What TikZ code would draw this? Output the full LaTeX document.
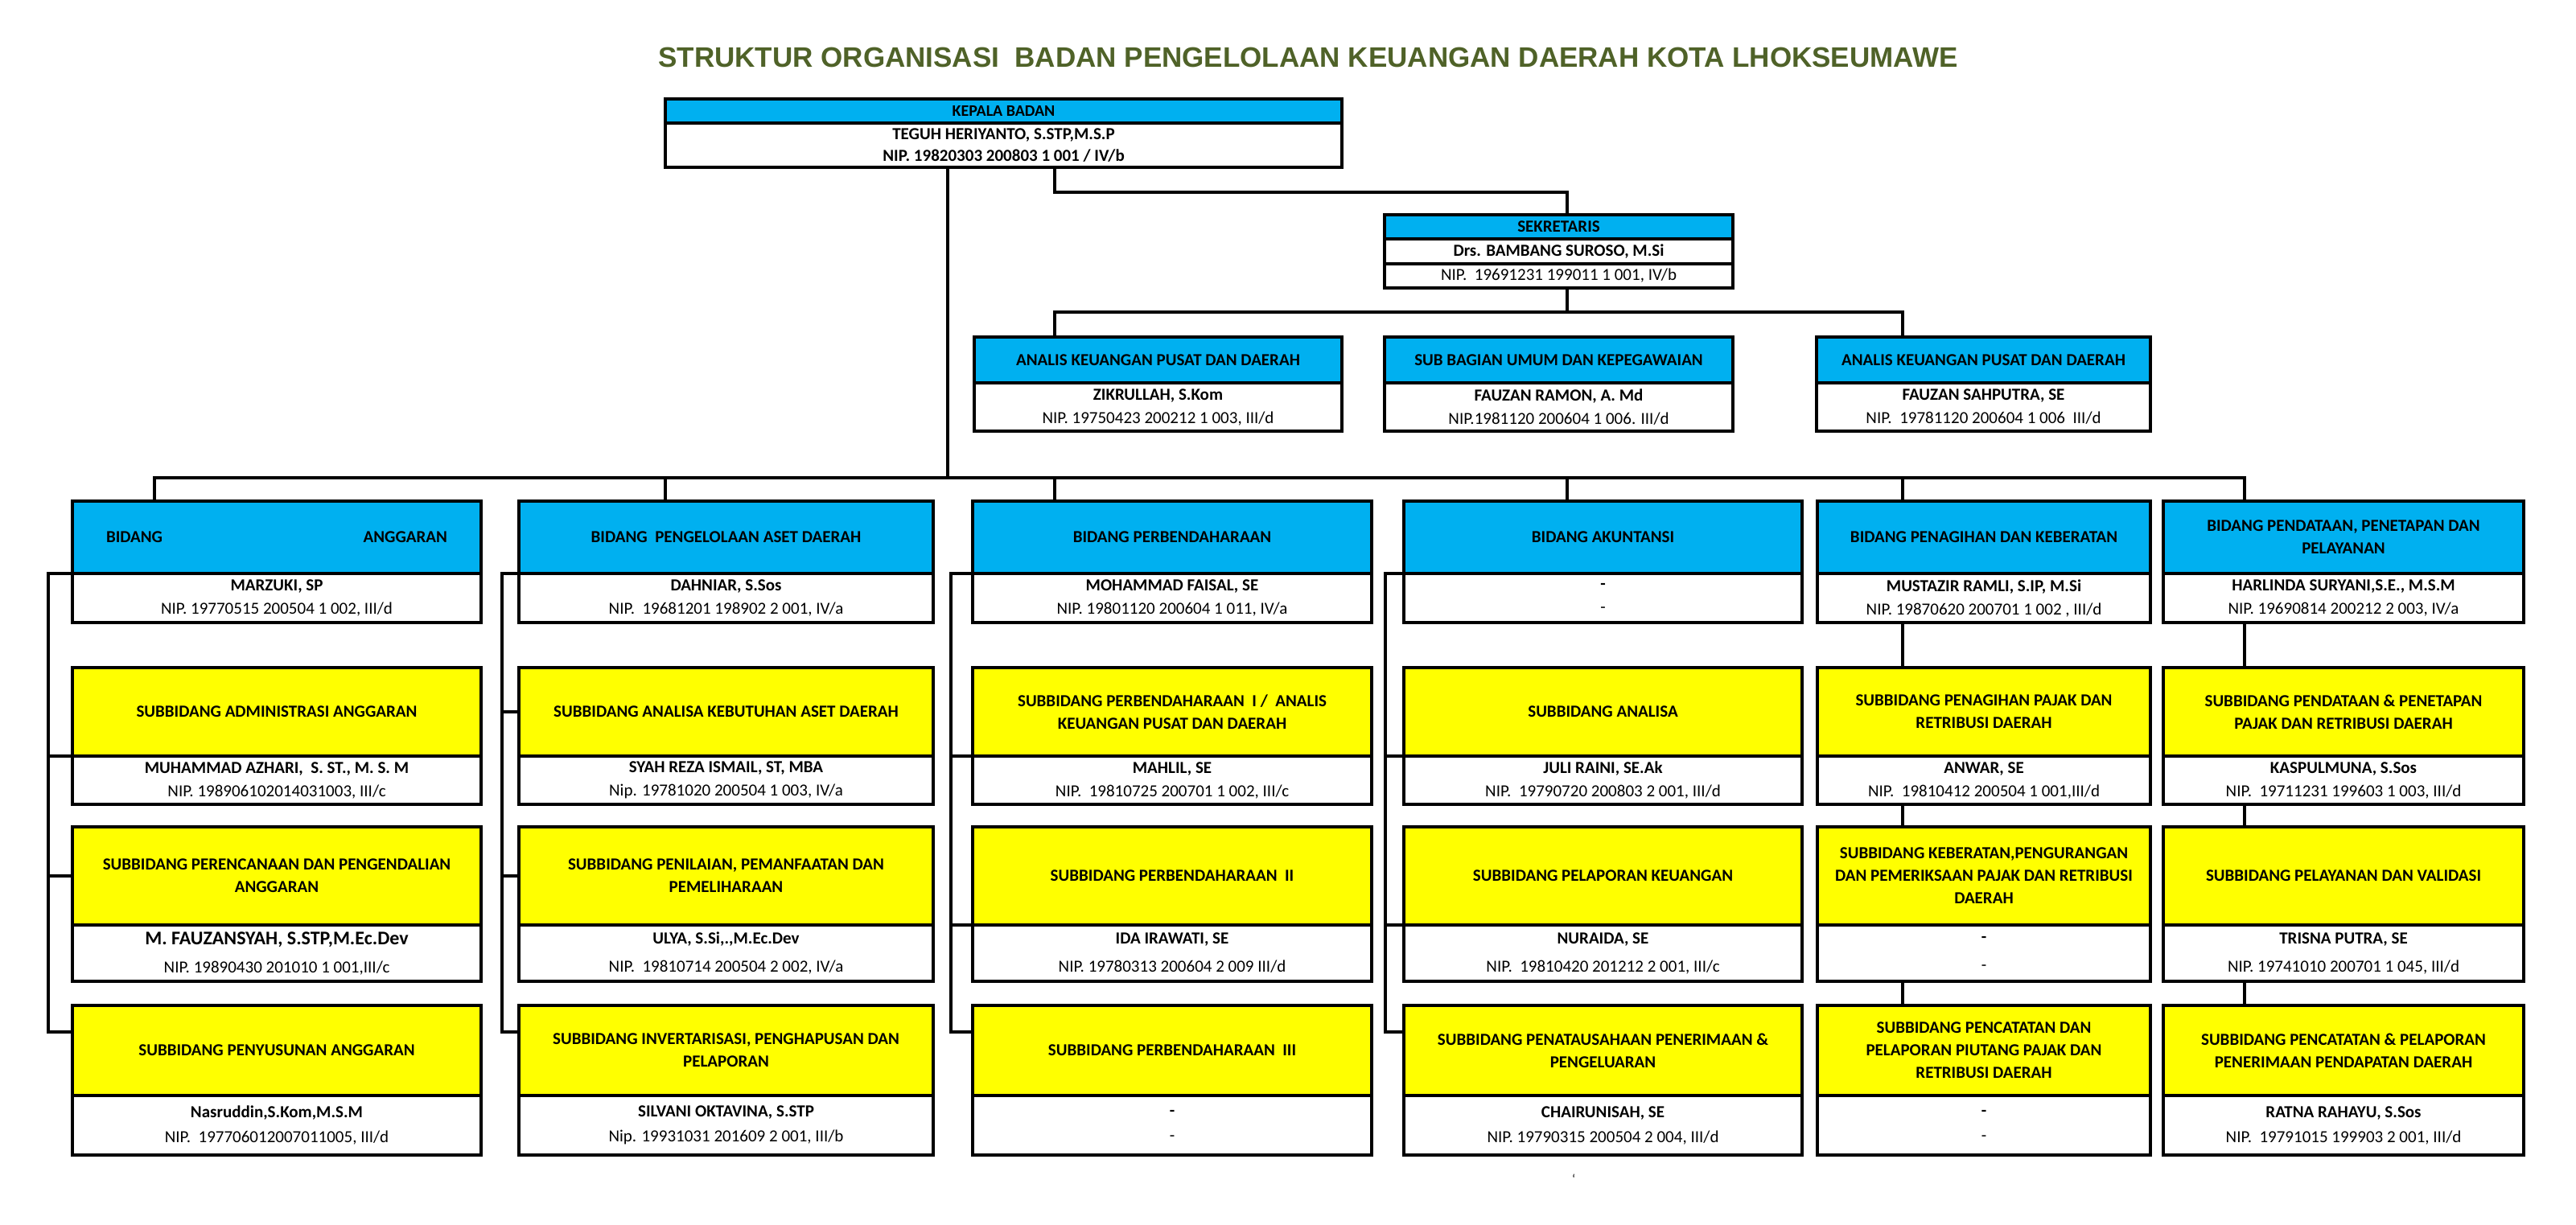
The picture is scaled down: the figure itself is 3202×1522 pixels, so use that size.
\documentclass[tikz,border=0pt]{standalone}
\usepackage{fontspec}
\setmainfont{Carlito}
\newfontfamily\titlefont{Liberation Sans}
\usetikzlibrary{calc}
\definecolor{hdrblue}{RGB}{0,176,240}
\definecolor{subyel}{RGB}{255,255,0}
\definecolor{titlegreen}{RGB}{79,98,40}
\newcommand\obox[9]{%
  \pgfmathsetlengthmacro\obw{(#3-#2)*0.5}%
  \pgfmathsetlengthmacro\obh{(#5-#4)*0.5}%
  \pgfmathsetlengthmacro\obb{(#6-#5)*0.5}%
  \node[hdr,fill=#7,minimum width=\obw,minimum height=\obh] (#1h) at (#2,#4) {#8};
  \node[bdy,minimum width=\obw,minimum height=\obb] (#1b) at (#2,#5) {#9};}
\begin{document}
\begin{tikzpicture}[x=0.5pt,y=-0.5pt,
  boxbase/.style={draw=black,line width=2.4pt,rectangle,inner sep=0pt,outer sep=0pt,anchor=north west,align=center},
  hdr/.style={boxbase,font=\bfseries\fontsize{10.5}{14}\selectfont},
  bdy/.style={boxbase,fill=white,font=\fontsize{10.5}{14.5}\selectfont},
  conn/.style={line width=1.8pt,line cap=rect}]
\useasboundingbox[fill=white] (0,0) rectangle (3202,1522);

\node[font=\titlefont\bfseries\fontsize{17.5}{20}\selectfont,text=titlegreen] (title) at (1626,71)
  {STRUKTUR ORGANISASI\ \ BADAN PENGELOLAAN KEUANGAN DAERAH KOTA LHOKSEUMAWE};

% Kepala
\obox{k}{827}{1668}{123}{153}{208}{hdrblue}{\fontsize{10}{12}\selectfont KEPALA BADAN}
  {\textbf{TEGUH HERIYANTO, S.STP,M.S.P}\\[-1pt]\textbf{NIP. 19820303 200803 1 001 / IV/b}}

% Sekretaris
\obox{s}{1721}{2154}{267}{297}{328}{hdrblue}{SEKRETARIS}{\textbf{Drs. BAMBANG SUROSO, M.Si}}
\node[bdy,minimum width=216.5pt,minimum height=15pt] (sp) at (1721,328) {NIP.\ \ 19691231 199011 1 001, IV/b};

% staff
\obox{a1}{1211}{1668}{419}{476}{536}{hdrblue}{ANALIS KEUANGAN PUSAT DAN DAERAH}
  {\textbf{ZIKRULLAH, S.Kom}\\NIP. 19750423 200212 1 003, III/d}
\obox{a2}{1721}{2154}{419}{476}{536}{hdrblue}{SUB BAGIAN UMUM DAN KEPEGAWAIAN}
  {\textbf{FAUZAN RAMON, A. Md}\\NIP.1981120 200604 1 006. III/d}
\obox{a3}{2258}{2673}{419}{476}{536}{hdrblue}{ANALIS KEUANGAN PUSAT DAN DAERAH}
  {\textbf{FAUZAN SAHPUTRA, SE}\\NIP.\ \ 19781120 200604 1 006\ \ III/d}

% bidang
\obox{b1}{90}{598}{623}{713}{774}{hdrblue}{\makebox[212pt]{BIDANG\hfill ANGGARAN}}
  {\textbf{MARZUKI, SP}\\NIP. 19770515 200504 1 002, III/d}
\obox{b2}{645}{1160}{623}{713}{774}{hdrblue}{BIDANG\ \ PENGELOLAAN ASET DAERAH}
  {\textbf{DAHNIAR, S.Sos}\\NIP.\ \ 19681201 198902 2 001, IV/a}
\obox{b3}{1209}{1705}{623}{713}{774}{hdrblue}{BIDANG PERBENDAHARAAN}
  {\textbf{MOHAMMAD FAISAL, SE}\\NIP. 19801120 200604 1 011, IV/a}
\obox{b4}{1745}{2240}{623}{713}{774}{hdrblue}{BIDANG AKUNTANSI}
  {\textbf{-}\\-}
\obox{b5}{2259}{2673}{623}{713}{774}{hdrblue}{BIDANG PENAGIHAN DAN KEBERATAN}
  {\textbf{MUSTAZIR RAMLI, S.IP, M.Si}\\NIP. 19870620 200701 1 002 , III/d}
\obox{b6}{2689}{3137}{623}{713}{774}{hdrblue}{BIDANG PENDATAAN, PENETAPAN DAN\\PELAYANAN}
  {\textbf{HARLINDA SURYANI,S.E., M.S.M}\\NIP. 19690814 200212 2 003, IV/a}

% row 1
\obox{r11}{90}{598}{830}{940}{1000}{subyel}{SUBBIDANG ADMINISTRASI ANGGARAN}
  {\textbf{MUHAMMAD AZHARI,\ \ S. ST., M. S. M}\\NIP. 198906102014031003, III/c}
\obox{r12}{645}{1160}{830}{940}{1000}{subyel}{SUBBIDANG ANALISA KEBUTUHAN ASET DAERAH}
  {\textbf{SYAH REZA ISMAIL, ST, MBA}\\Nip. 19781020 200504 1 003, IV/a}
\obox{r13}{1209}{1705}{830}{940}{1000}{subyel}{SUBBIDANG PERBENDAHARAAN\ \ I /\ \ ANALIS\\KEUANGAN PUSAT DAN DAERAH}
  {\textbf{MAHLIL, SE}\\NIP.\ \ 19810725 200701 1 002, III/c}
\obox{r14}{1745}{2240}{830}{940}{1000}{subyel}{SUBBIDANG ANALISA}
  {\textbf{JULI RAINI, SE.Ak}\\NIP.\ \ 19790720 200803 2 001, III/d}
\obox{r15}{2259}{2673}{830}{940}{1000}{subyel}{SUBBIDANG PENAGIHAN PAJAK DAN\\RETRIBUSI DAERAH}
  {\textbf{ANWAR, SE}\\NIP.\ \ 19810412 200504 1 001,III/d}
\obox{r16}{2689}{3137}{830}{940}{1000}{subyel}{SUBBIDANG PENDATAAN \& PENETAPAN\\PAJAK DAN RETRIBUSI DAERAH}
  {\textbf{KASPULMUNA, S.Sos}\\NIP.\ \ 19711231 199603 1 003, III/d}

% row 2
\obox{r21}{90}{598}{1028}{1150}{1220}{subyel}{SUBBIDANG PERENCANAAN DAN PENGENDALIAN\\ANGGARAN}
  {{\bfseries\fontsize{12}{14}\selectfont M. FAUZANSYAH, S.STP,M.Ec.Dev}\\[3pt]NIP. 19890430 201010 1 001,III/c}
\obox{r22}{645}{1160}{1028}{1150}{1220}{subyel}{SUBBIDANG PENILAIAN, PEMANFAATAN DAN\\PEMELIHARAAN}
  {\textbf{ULYA, S.Si,.,M.Ec.Dev}\\[3pt]NIP.\ \ 19810714 200504 2 002, IV/a}
\obox{r23}{1209}{1705}{1028}{1150}{1220}{subyel}{SUBBIDANG PERBENDAHARAAN\ \ II}
  {\textbf{IDA IRAWATI, SE}\\[3pt]NIP. 19780313 200604 2 009 III/d}
\obox{r24}{1745}{2240}{1028}{1150}{1220}{subyel}{SUBBIDANG PELAPORAN KEUANGAN}
  {\textbf{NURAIDA, SE}\\[3pt]NIP.\ \ 19810420 201212 2 001, III/c}
\obox{r25}{2259}{2673}{1028}{1150}{1220}{subyel}{SUBBIDANG KEBERATAN,PENGURANGAN\\DAN PEMERIKSAAN PAJAK DAN RETRIBUSI\\DAERAH}
  {\textbf{-}\\[3pt]-}
\obox{r26}{2689}{3137}{1028}{1150}{1220}{subyel}{SUBBIDANG PELAYANAN DAN VALIDASI}
  {\textbf{TRISNA PUTRA, SE}\\[3pt]NIP. 19741010 200701 1 045, III/d}

% row 3
\obox{r31}{90}{598}{1250}{1362}{1436}{subyel}{SUBBIDANG PENYUSUNAN ANGGARAN}
  {\textbf{Nasruddin,S.Kom,M.S.M}\\[1pt]NIP.\ \ 197706012007011005, III/d}
\obox{r32}{645}{1160}{1250}{1362}{1436}{subyel}{SUBBIDANG INVERTARISASI, PENGHAPUSAN DAN\\PELAPORAN}
  {\textbf{SILVANI OKTAVINA, S.STP}\\[1pt]Nip. 19931031 201609 2 001, III/b}
\obox{r33}{1209}{1705}{1250}{1362}{1436}{subyel}{SUBBIDANG PERBENDAHARAAN\ \ III}
  {\textbf{-}\\[1pt]-}
\obox{r34}{1745}{2240}{1250}{1362}{1436}{subyel}{SUBBIDANG PENATAUSAHAAN PENERIMAAN \&\\PENGELUARAN}
  {\textbf{CHAIRUNISAH, SE}\\[1pt]NIP. 19790315 200504 2 004, III/d}
\obox{r35}{2259}{2673}{1250}{1362}{1436}{subyel}{SUBBIDANG PENCATATAN DAN\\PELAPORAN PIUTANG PAJAK DAN\\RETRIBUSI DAERAH}
  {\textbf{-}\\[1pt]-}
\obox{r36}{2689}{3137}{1250}{1362}{1436}{subyel}{SUBBIDANG PENCATATAN \& PELAPORAN\\PENERIMAAN PENDAPATAN DAERAH}
  {\textbf{RATNA RAHAYU, S.Sos}\\[1pt]NIP.\ \ 19791015 199903 2 001, III/d}

\node[font=\fontsize{8}{8}\selectfont] (tick) at (1956,1466) {`};

% ---------- connectors
\coordinate (kx) at (1178,594);
\coordinate (ks1) at (1311,239);
\coordinate (ks2) at (1948,239);
\draw[conn] (kx |- kb.south) -- (kx);
\draw[conn] (ks1 |- kb.south) -- (ks1) -- (ks2) -- (ks2 |- sh.north);

\coordinate (h1) at (1311,388);
\coordinate (h2) at (1948,388);
\coordinate (h3) at (2365,388);
\draw[conn] (h2 |- sp.south) -- (h2);
\draw[conn] (h1) -- (h3);
\draw[conn] (h1) -- (h1 |- a1h.north);
\draw[conn] (h3) -- (h3 |- a3h.north);

\coordinate (d1) at (192,594);
\coordinate (d2) at (827,594);
\coordinate (d3) at (1311,594);
\coordinate (d4) at (1948,594);
\coordinate (d5) at (2365,594);
\coordinate (d6) at (2790,594);
\draw[conn] (d1) -- (d6);
\foreach \i in {1,...,6} {\draw[conn] (d\i) -- (d\i |- b\i h.north);}

% left feeders of columns 1-4
\coordinate (v1) at (60,0);
\coordinate (v2) at (624,0);
\coordinate (v3) at (1182,0);
\coordinate (v4) at (1722,0);
\foreach \i in {1,...,4} {\coordinate (p\i) at ([yshift=11.5pt]r3\i h.west);}
\foreach \i in {1,...,4} {\draw[conn] (v\i |- b\i h.south west) -- (v\i |- p\i);
  \draw[conn] (v\i |- b\i h.south west) -- (b\i h.south west);
  \draw[conn] (v\i |- p\i) -- (p\i);}
\draw[conn] (v1 |- r11h.south west) -- (r11h.south west);
\draw[conn] (v1 |- r21h.west) -- (r21h.west);
\draw[conn] (v2 |- r12h.west) -- (r12h.west);
\draw[conn] (v2 |- r22h.west) -- (r22h.west);
\draw[conn] (v3 |- r13h.south west) -- (r13h.south west);
\draw[conn] (v3 |- r23h.south west) -- (r23h.south west);
\draw[conn] (v4 |- r14h.south west) -- (r14h.south west);
\draw[conn] (v4 |- r24h.south west) -- (r24h.south west);

% columns 5-6 chains
\foreach \i in {5,6} {
  \draw[conn] (d\i |- b\i b.south) -- (d\i |- r1\i h.north);
  \draw[conn] (d\i |- r1\i b.south) -- (d\i |- r2\i h.north);
  \draw[conn] (d\i |- r2\i b.south) -- (d\i |- r3\i h.north);}
\end{tikzpicture}
\end{document}
